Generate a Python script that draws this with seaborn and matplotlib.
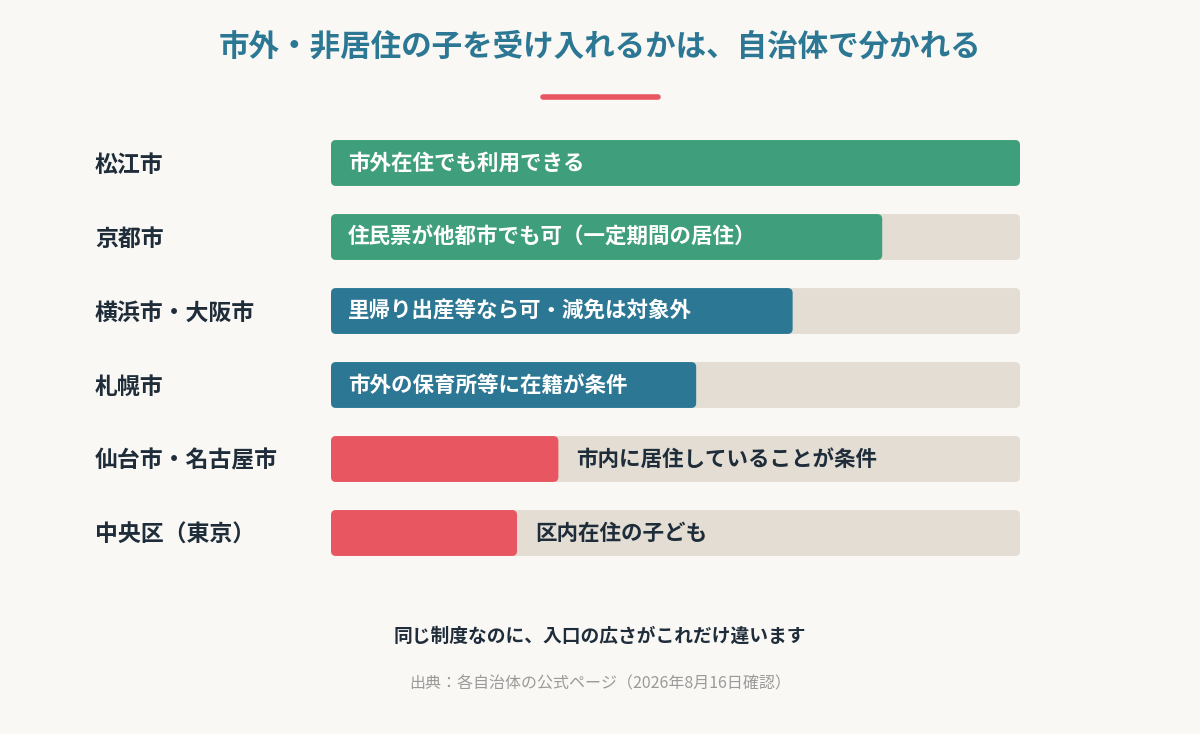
import numpy as np
import pandas as pd
import matplotlib
matplotlib.use('Agg')
from matplotlib import pyplot as plt
from matplotlib.patches import FancyBboxPatch
import seaborn as sns

cities = ['松江市', '京都市', '横浜市・大阪市', '札幌市', '仙台市・名古屋市', '中央区（東京）']
scores = [100, 80, 67, 53, 33, 27]
notes = ['市外在住でも利用できる', '住民票が他都市でも可（一定期間の居住）',
         '里帰り出産等なら可・減免は対象外', '市外の保育所等に在籍が条件',
         '市内に居住していることが条件', '区内在住の子ども']
groups = ['open', 'open', 'mid', 'mid', 'closed', 'closed']

BG = '#faf8f4'
TRACK = '#e3ddd3'
DARK = '#1f2d3a'
palette = {'open': '#3f9e7c', 'mid': '#2c7794', 'closed': '#e85661'}

sns.set_theme(style='white')
plt.rcParams['font.family'] = ['Noto Sans CJK JP', 'DejaVu Sans']

df = pd.DataFrame({'city': cities, 'score': scores, 'note': notes, 'group': groups})
df['track'] = 100

fig = plt.figure(figsize=(12, 7.34), dpi=100, facecolor=BG)
ax = fig.add_axes([331 / 1200, 1 - 570 / 734, 689 / 1200, 444 / 734])
ax.set_facecolor(BG)

sns.barplot(data=df, y='city', x='track', color=TRACK, width=0.62, ax=ax, saturation=1)
sns.barplot(data=df, y='city', x='score', hue='group', palette=palette, width=0.62,
            dodge=False, ax=ax, saturation=1, legend=False)

# rounded corners: ~5px radius in both directions
px = 100 / 689.0      # x data units per pixel
py = 1 / 74.0         # y data units per pixel
rad = 5 * px
for p in list(ax.patches):
    x, y = p.get_x(), p.get_y()
    w, h = p.get_width(), p.get_height()
    if w > 0:
        fb = FancyBboxPatch((x, y), w, h,
                            boxstyle=f'round,pad=0,rounding_size={rad}',
                            mutation_aspect=py / px,
                            facecolor=p.get_facecolor(), edgecolor='none',
                            zorder=p.get_zorder())
        ax.add_patch(fb)
    p.remove()

ax.set_xlim(0, 100)
ax.set_ylim(5.5, -0.5)
ax.set_xlabel('')
ax.set_ylabel('')
ax.set_xticks([])
ax.set_yticks([])
sns.despine(ax=ax, left=True, bottom=True)

for i, row in df.iterrows():
    if row['group'] == 'closed':
        ax.text(row['score'] + 18 * px, i, row['note'], va='center', ha='left',
                fontsize=15.5, fontweight='bold', color=DARK)
    else:
        ax.text(17 * px, i, row['note'], va='center', ha='left',
                fontsize=15.5, fontweight='bold', color='white')
    ax.text(-236 * px, i + 2 * py, row['city'], va='center', ha='left',
            fontsize=16.5, fontweight='bold', color=DARK)

fig.text(0.5, 1 - 47 / 734, '市外・非居住の子を受け入れるかは、自治体で分かれる',
         ha='center', va='center', fontsize=22, fontweight='bold', color='#2c7794')
fig.add_artist(plt.Line2D([543 / 1200, 658 / 1200], [1 - 97 / 734] * 2, color='#e85661',
                          lw=4, solid_capstyle='round'))
fig.text(0.5, 1 - 636 / 734, '同じ制度なのに、入口の広さがこれだけ違います',
         ha='center', va='center', fontsize=13.5, fontweight='bold', color=DARK)
fig.text(0.5, 1 - 684 / 734, '出典：各自治体の公式ページ（2026年8月16日確認）',
         ha='center', va='center', fontsize=11.5, color='#9a9a9a')

fig.savefig('out.png', dpi=100, facecolor=BG)
